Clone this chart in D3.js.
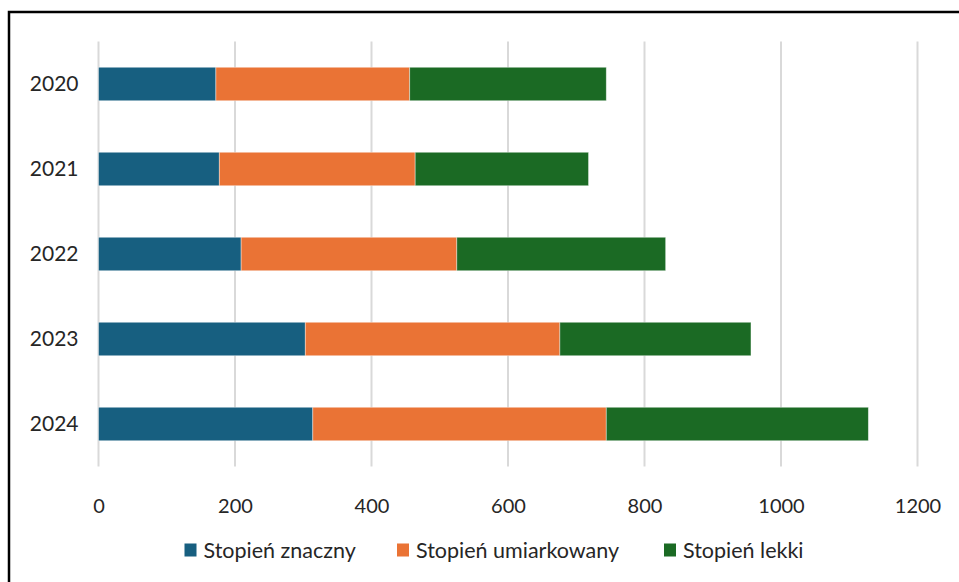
<!DOCTYPE html>
<html>
<head>
<meta charset="utf-8">
<script src="https://cdn.jsdelivr.net/npm/d3@7"></script>
<style>
  body { margin: 0; background: #fff; }
  svg text { font-family: Lato, "Open Sans", sans-serif; fill: #262626; }
</style>
</head>
<body>
<script>
// data
var years = ["2020", "2021", "2022", "2023", "2024"];
var seriesNames = ["Stopień znaczny", "Stopień umiarkowany", "Stopień lekki"];
var znaczny = [172, 177, 209, 303, 314];
var umiarkowany = [284, 287, 316, 373, 430];
var lekki = [288, 254, 306, 280, 384];
var xTicks = [0, 200, 400, 600, 800, 1000, 1200];
var colors = ["#175f80", "#ea7335", "#1b6a24"];

var width = 959, height = 582;
var margin = {top: 41.5, right: 41.5, bottom: 115.5, left: 98.5};
var w = width - margin.left - margin.right,
    h = height - margin.top - margin.bottom;

var rows = years.map(function(y, i) {
  return {year: y, "Stopień znaczny": znaczny[i], "Stopień umiarkowany": umiarkowany[i], "Stopień lekki": lekki[i]};
});
var stacked = d3.stack().keys(seriesNames)(rows);

var svg = d3.select("body").append("svg")
    .attr("width", width)
    .attr("height", height);

// outer frame (runs off the right and bottom edges)
svg.append("rect")
    .attr("x", 9).attr("y", 12)
    .attr("width", 980).attr("height", 600)
    .attr("fill", "none")
    .attr("stroke", "#000")
    .attr("stroke-width", 2.5);

var g = svg.append("g")
    .attr("transform", "translate(" + margin.left + "," + margin.top + ")");

var x = d3.scaleLinear().domain([0, 1200]).range([0, w]);
var y = d3.scaleBand().domain(years).range([0, h]).paddingInner(0.606).paddingOuter(0.303);

// grid
g.append("g").selectAll("line")
    .data(xTicks)
  .enter().append("line")
    .attr("x1", function(d) { return x(d); })
    .attr("x2", function(d) { return x(d); })
    .attr("y1", 0)
    .attr("y2", h)
    .attr("stroke", "#d9d9d9")
    .attr("stroke-width", 2);

// bars
g.selectAll("g.series")
    .data(stacked)
  .enter().append("g")
    .attr("class", "series")
    .attr("fill", function(d, i) { return colors[i]; })
  .selectAll("rect")
    .data(function(d) { return d; })
  .enter().append("rect")
    .attr("x", function(d) { return x(d[0]); })
    .attr("y", function(d) { return y(d.data.year); })
    .attr("width", function(d) { return x(d[1]) - x(d[0]); })
    .attr("height", y.bandwidth())
    .attr("stroke", "rgba(255,255,255,0.5)")
    .attr("stroke-width", 0.8);

// x axis labels
var xAxis = d3.axisBottom(x).tickValues(xTicks).tickFormat(d3.format("d")).tickSize(0).tickPadding(0);
var xg = g.append("g")
    .attr("transform", "translate(0," + (h + 39) + ")")
    .call(xAxis);
xg.select(".domain").remove();
xg.selectAll("text")
    .style("font-size", "20px")
    .attr("dy", "0.35em")
    .attr("y", 0);

// y axis labels
var yAxis = d3.axisLeft(y).tickSize(0).tickPadding(20);
var yg = g.append("g").call(yAxis);
yg.select(".domain").remove();
yg.selectAll("text")
    .style("font-size", "21px")
    .attr("dy", "0.35em");

// legend
var legendX = [184.5, 397, 664];
var legend = svg.append("g").selectAll("g")
    .data(seriesNames)
  .enter().append("g")
    .attr("transform", function(d, i) { return "translate(" + legendX[i] + ",550)"; });
legend.append("rect")
    .attr("x", 0).attr("y", -6.5)
    .attr("width", 12).attr("height", 13)
    .attr("fill", function(d, i) { return colors[i]; });
legend.append("text")
    .attr("x", 19)
    .attr("dy", "0.35em")
    .style("font-size", "21.5px")
    .text(function(d) { return d; });
</script>
</body>
</html>
